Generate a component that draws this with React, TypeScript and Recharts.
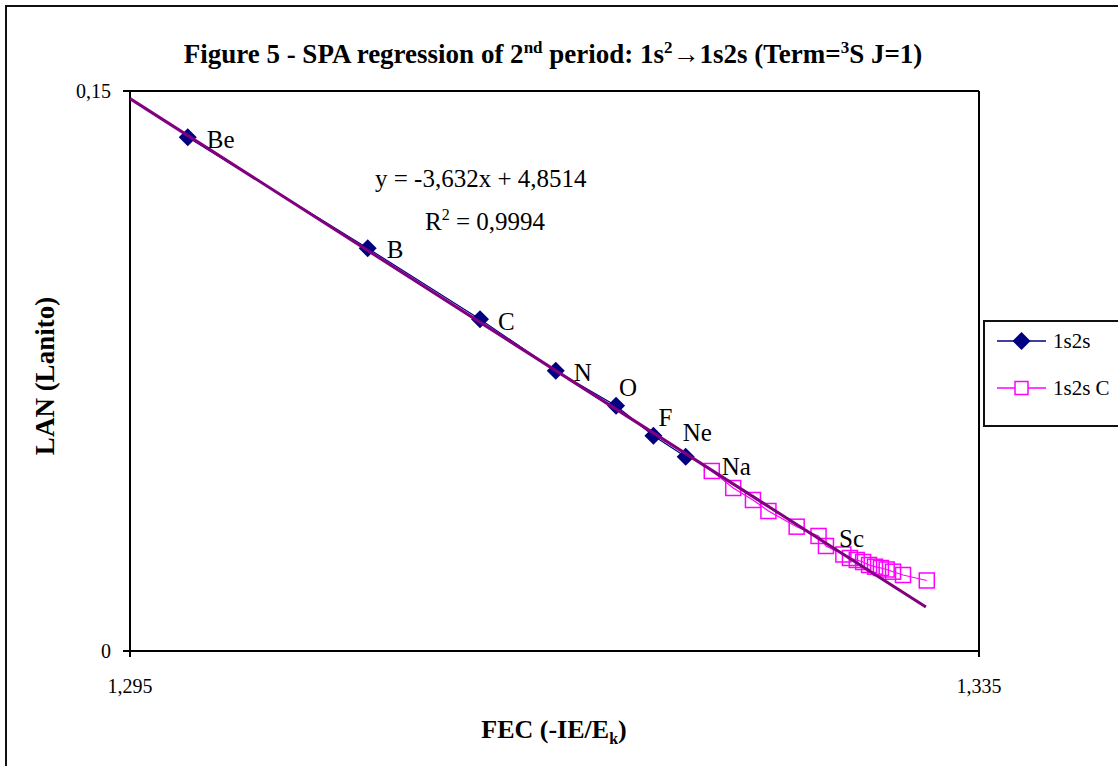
import React from "react";
import { ScatterChart, Scatter, XAxis, YAxis, CartesianGrid } from "recharts";

// 1s2s (Be .. Ne)
const elements = ["Be", "B", "C", "N", "O", "F", "Ne"];
const fec1s2s = [1.29772, 1.3062, 1.31149, 1.31506, 1.3179, 1.31966, 1.32118];
const lan1s2s = [0.13761, 0.10788, 0.08886, 0.07509, 0.06571, 0.05768, 0.05205];

// 1s2s C (Na onwards)
const elementsC = ["Na", "", "", "", "", "", "", "", "", "", "Sc", "", "", "", "", "", "", ""];
const fec1s2sC = [
  1.32241, 1.32342, 1.32435, 1.32508, 1.32641, 1.32744, 1.32779, 1.32861, 1.32892,
  1.32924, 1.32954, 1.32982, 1.3301, 1.33038, 1.33065, 1.33095, 1.33142, 1.33254,
];
const lan1s2sC = [
  0.04822, 0.04366, 0.04045, 0.0375, 0.0333, 0.03081, 0.02813, 0.02585, 0.02491,
  0.02438, 0.02384, 0.02304, 0.02258, 0.02223, 0.02183, 0.02124, 0.02036, 0.01889,
];

// linear trendline shown on the chart: y = -3,632x + 4,8514
const slope = -3.632;
const intercept = 4.8514;
const trendFec = [1.295, 1.3325];

const xTicks = [1.295, 1.335];
const yTicks = [0, 0.15];

const NAVY = "#000080";
const PINK = "#FF00FF";
const TREND = "#800080";
const FONT = "'Liberation Serif', 'Times New Roman', serif";

// where each element name sits relative to its marker (text start, baseline)
const labelOffset: Record<string, [number, number]> = {
  Be: [19, 11],
  B: [19, 10],
  C: [18, 11],
  N: [18, 10],
  O: [3, -10],
  F: [5, -10],
  Ne: [-3, -16],
  Na: [10, 4],
  Sc: [-24, -15],
};

const PointLabel = ({ cx, cy, name }: any) => {
  if (!name) return null;
  const [dx, dy] = labelOffset[name] || [10, 0];
  return (
    <text x={cx + dx} y={cy + dy} fontFamily={FONT} fontSize={25} fill="#000">
      {name}
    </text>
  );
};

const Diamond = (props: any) => {
  const { cx, cy, payload } = props;
  const r = 9;
  return (
    <g>
      <polygon points={`${cx},${cy - r} ${cx + r},${cy} ${cx},${cy + r} ${cx - r},${cy}`} fill={NAVY} />
      <PointLabel cx={cx} cy={cy} name={payload?.name} />
    </g>
  );
};

const Square = (props: any) => {
  const { cx, cy, payload } = props;
  const s = 15;
  return (
    <g>
      <rect x={cx - s / 2} y={cy - s / 2} width={s} height={s} fill="none" stroke={PINK} strokeWidth={1.5} />
      <PointLabel cx={cx} cy={cy} name={payload?.name} />
    </g>
  );
};

const fmt = (v: number, d: number) => (v === 0 ? "0" : v.toFixed(d).replace(".", ","));

const XTick = ({ x, y, payload }: any) => (
  <text x={x} y={y + 14} textAnchor="middle" fontFamily={FONT} fontSize={20} fill="#000">
    {fmt(payload.value, 3)}
  </text>
);

const YTick = ({ x, y, payload }: any) => (
  <text x={x} y={y + 7} textAnchor="end" fontFamily={FONT} fontSize={20} fill="#000">
    {fmt(payload.value, 2)}
  </text>
);

export default function App() {
  const blueData = fec1s2s.map((x, i) => ({ x, y: lan1s2s[i], name: elements[i] }));
  const pinkData = fec1s2sC.map((x, i) => ({ x, y: lan1s2sC[i], name: elementsC[i] }));
  const trendData = trendFec.map((x) => ({ x, y: slope * x + intercept }));

  return (
    <div
      style={{
        position: "absolute",
        left: 0,
        top: 0,
        width: 1118,
        height: 766,
        overflow: "hidden",
        background: "#fff",
        fontFamily: FONT,
      }}
    >
      <div style={{ position: "absolute", left: 5, top: 5, width: 1300, height: 900, border: "2px solid #111" }} />

      <div style={{ position: "absolute", left: 0, top: 0 }}>
        <ScatterChart width={1118} height={766} margin={{ top: 91, right: 139, left: 70, bottom: 75 }}>
          <CartesianGrid stroke="#000" strokeWidth={2} />
          <XAxis
            type="number"
            dataKey="x"
            domain={[1.295, 1.335]}
            ticks={xTicks}
            allowDataOverflow
            tick={<XTick />}
            tickSize={6}
            tickMargin={22}
            height={40}
            stroke="#000"
            strokeWidth={2}
          />
          <YAxis
            type="number"
            dataKey="y"
            domain={[0, 0.15]}
            ticks={yTicks}
            allowDataOverflow
            tick={<YTick />}
            tickSize={7}
            tickMargin={12}
            width={60}
            stroke="#000"
            strokeWidth={2}
          />
          <Scatter
            name="1s2s"
            data={blueData}
            fill={NAVY}
            line={{ stroke: NAVY, strokeWidth: 1.2 }}
            shape={Diamond}
            isAnimationActive={false}
          />
          <Scatter
            name="1s2s C"
            data={pinkData}
            fill={PINK}
            line={{ stroke: PINK, strokeWidth: 1.2 }}
            shape={Square}
            isAnimationActive={false}
          />
          <Scatter
            name="trend"
            data={trendData}
            fill={TREND}
            line={{ stroke: TREND, strokeWidth: 3 }}
            shape={() => <g />}
            legendType="none"
            isAnimationActive={false}
          />
        </ScatterChart>
      </div>

      <svg width={1118} height={766} style={{ position: "absolute", left: 0, top: 0, pointerEvents: "none" }}>
        <text x={553} y={63} textAnchor="middle" fontFamily={FONT} fontSize={27} fontWeight="bold" fill="#000">
          Figure 5 - SPA regression of 2
          <tspan fontSize={17} dy={-10}>nd</tspan>
          <tspan dy={10}> period: 1s</tspan>
          <tspan fontSize={17} dy={-10}>2</tspan>
          <tspan dy={10}>→1s2s (Term=</tspan>
          <tspan fontSize={17} dy={-10}>3</tspan>
          <tspan dy={10}>S J=1)</tspan>
        </text>
        <text x={554} y={738} textAnchor="middle" fontFamily={FONT} fontSize={26} fontWeight="bold" fill="#000">
          FEC (-IE/E
          <tspan fontSize={16} dy={6}>k</tspan>
          <tspan dy={-6}>)</tspan>
        </text>
        <text
          x={54}
          y={376}
          textAnchor="middle"
          transform="rotate(-90 54 376)"
          fontFamily={FONT}
          fontSize={27}
          fontWeight="bold"
          fill="#000"
        >
          LAN (Lanito)
        </text>
        <text x={375} y={187} fontFamily={FONT} fontSize={25} fill="#000">
          y = -3,632x + 4,8514
        </text>
        <text x={425} y={230} fontFamily={FONT} fontSize={25} fill="#000">
          R<tspan fontSize={16} dy={-10}>2</tspan>
          <tspan dy={10}> = 0,9994</tspan>
        </text>
      </svg>

      <div
        style={{
          position: "absolute",
          left: 983,
          top: 320,
          width: 200,
          height: 107,
          border: "2px solid #111",
          boxSizing: "border-box",
        }}
      >
        <svg width={200} height={105}>
          <line x1={12} x2={61} y1={19} y2={19} stroke={NAVY} strokeWidth={1.5} />
          <polygon points="36.5,10 45.5,19 36.5,28 27.5,19" fill={NAVY} />
          <text x={68} y={26} fontFamily={FONT} fontSize={21} fill="#000">1s2s</text>
          <line x1={12} x2={61} y1={66} y2={66} stroke={PINK} strokeWidth={1.5} />
          <rect x={30} y={59.5} width={13} height={13} fill="#fff" stroke={PINK} strokeWidth={1.5} />
          <text x={68} y={73} fontFamily={FONT} fontSize={21} fill="#000">1s2s C</text>
        </svg>
      </div>
    </div>
  );
}
